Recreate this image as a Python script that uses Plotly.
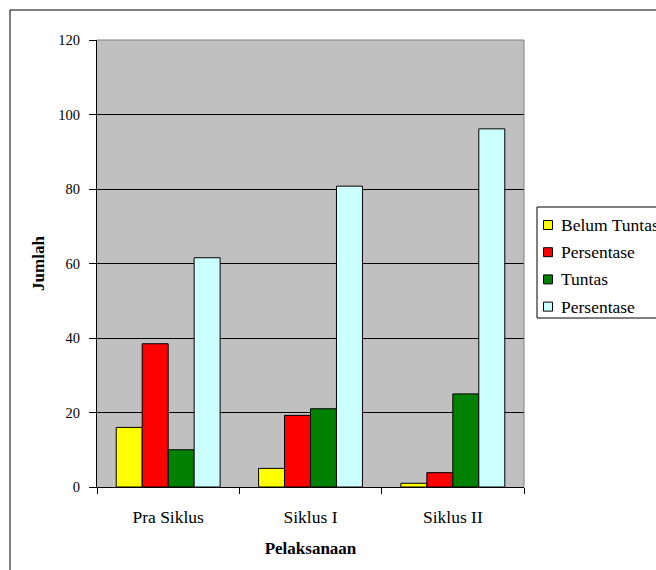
import plotly.graph_objects as go

# Data: learning completeness per implementation stage
categories = ["Pra Siklus", "Siklus I", "Siklus II"]
belum_tuntas = [16, 5, 1]
persentase_belum = [38.46, 19.23, 3.85]
tuntas = [10, 21, 25]
persentase_tuntas = [61.54, 80.77, 96.15]

series_names = ["Belum Tuntas", "Persentase", "Tuntas", "Persentase"]
series_values = [belum_tuntas, persentase_belum, tuntas, persentase_tuntas]
series_colors = ["#FFFF00", "#FF0000", "#008000", "#CCFFFF"]

W, H = 656, 570
PL, PR, PT, PB = 97, 524, 40, 487  # plot-area box in pixels
pw, ph = PR - PL, PB - PT

def px_x(x):
    return (x - PL) / pw

def px_y(y):
    return (PB - y) / ph

FONT = "Liberation Serif"

fig = go.Figure()
for name, vals, col in zip(series_names, series_values, series_colors):
    fig.add_trace(go.Bar(
        x=categories, y=vals, name=name, showlegend=False,
        marker=dict(color=col, line=dict(color="#000000", width=1)),
    ))

shapes = [
    # gray frame on the top/right of the plot area
    dict(type="line", xref="paper", yref="paper", x0=0, x1=1, y0=1, y1=1,
         line=dict(color="#808080", width=1)),
    dict(type="line", xref="paper", yref="paper", x0=1, x1=1, y0=0, y1=1,
         line=dict(color="#808080", width=1)),
    # outer chart border
    dict(type="rect", xref="paper", yref="paper",
         x0=px_x(10), x1=px_x(700), y0=px_y(10), y1=px_y(620),
         line=dict(color="black", width=1), fillcolor="rgba(0,0,0,0)"),
    # legend box
    dict(type="rect", xref="paper", yref="paper",
         x0=px_x(537), x1=px_x(700), y0=px_y(207), y1=px_y(318),
         line=dict(color="black", width=1), fillcolor="white"),
]
annotations = []

# legend entries: swatch + label
row0, row_step = 225.0, 27.2
for i, (name, col) in enumerate(zip(series_names, series_colors)):
    cy = row0 + i * row_step
    shapes.append(dict(
        type="rect", xref="paper", yref="paper",
        x0=px_x(543.5), x1=px_x(552.5), y0=px_y(cy - 4.5), y1=px_y(cy + 4.5),
        line=dict(color="black", width=1), fillcolor=col,
    ))
    annotations.append(dict(
        xref="paper", yref="paper", x=px_x(559), y=px_y(cy),
        xanchor="left", yanchor="middle", showarrow=False,
        text=name, font=dict(family=FONT, size=17.5, color="black"),
    ))

fig.update_layout(
    width=W, height=H,
    margin=dict(l=PL, r=W - PR, t=PT, b=H - PB, autoexpand=False),
    paper_bgcolor="white",
    plot_bgcolor="#C0C0C0",
    barmode="group",
    bargap=0.27,
    bargroupgap=0,
    font=dict(family=FONT, size=16, color="black"),
    xaxis=dict(
        showline=True, linecolor="black", linewidth=1,
        ticks="outside", ticklen=6, tickcolor="black",
        tickson="boundaries",
        showgrid=False,
        ticklabelstandoff=14,
        title=dict(text="<b>Pelaksanaan</b>", standoff=16,
                   font=dict(family=FONT, size=17)),
        tickfont=dict(family=FONT, size=17.5),
    ),
    yaxis=dict(
        range=[0, 120], dtick=20,
        showline=True, linecolor="black", linewidth=1,
        ticks="outside", ticklen=7, tickcolor="black",
        showgrid=True, gridcolor="black", gridwidth=1,
        zeroline=False,
        ticklabelstandoff=6,
        title=dict(text="<b>Jumlah</b>", standoff=9,
                   font=dict(family=FONT, size=17)),
        tickfont=dict(family=FONT, size=14.5),
    ),
    shapes=shapes,
    annotations=annotations,
)

fig.write_html("out.html")
